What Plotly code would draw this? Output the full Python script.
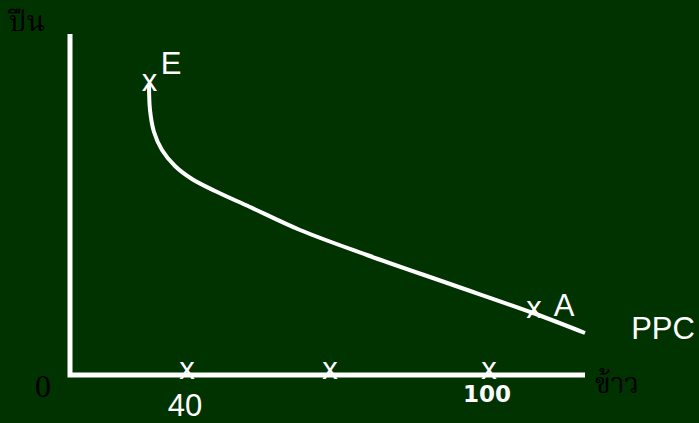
import plotly.graph_objects as go

# axes of the diagram (units: x = rice, y = guns)
axis_x = [0, 0, 515]
axis_y = [341, 0, 0]

# PPC curve
curve_x = [79, 80, 84, 92, 105, 122, 145, 180, 230, 297, 383, 463, 515]
curve_y = [291, 265, 243, 225, 209, 196, 184, 168, 145, 120, 90, 62, 42]

# "x" marks
mark_x = [79.5, 117, 260, 419, 464]
mark_y = [292, 4, 4, 4, 65]

# white labels
labels = ["E", "A", "PPC", "40"]
label_x = [101, 494, 593, 115]
label_y = [309, 67, 44, -33]

bold_label = ["<b>100</b>"]
bold_label_x = [417]
bold_label_y = [-21]

# black labels
origin_label = ["0"]
origin_x = [-27]
origin_y = [-14]
thai_labels = ["ปืน", "ข้าว"]
thai_x = [-43, 547]
thai_y = [351, -11]

BG = "#003300"
SANS = "Liberation Sans, Arial"


def text_trace(x, y, text, font):
    return go.Scatter(x=x, y=y, mode="text", text=text, textfont=font,
                      textposition="middle center", hoverinfo="skip")


fig = go.Figure()

fig.add_trace(go.Scatter(
    x=axis_x, y=axis_y, mode="lines",
    line=dict(color="white", width=5), hoverinfo="skip",
))

fig.add_trace(go.Scatter(
    x=curve_x, y=curve_y, mode="lines",
    line=dict(color="white", width=4, shape="spline", smoothing=1),
    hoverinfo="skip",
))

fig.add_trace(text_trace(mark_x, mark_y, ["x"] * len(mark_x),
                         dict(family=SANS, size=31, color="white")))
fig.add_trace(text_trace(label_x, label_y, labels,
                         dict(family=SANS, size=31, color="white")))
fig.add_trace(text_trace(bold_label_x, bold_label_y, bold_label,
                         dict(family="DejaVu Sans", size=23, color="white")))
fig.add_trace(text_trace(origin_x, origin_y, origin_label,
                         dict(family="Liberation Serif, Times New Roman", size=32, color="black")))
fig.add_trace(text_trace(thai_x, thai_y, thai_labels,
                         dict(family="Noto Serif Thai, Noto Sans Thai, Tahoma, serif", size=28, color="black")))

# full-canvas axes so that one unit is one pixel; the drawn L above is the visible axis
fig.update_xaxes(range=[-70, 629], visible=False)
fig.update_yaxes(range=[-48, 375], visible=False)

fig.update_layout(
    width=699, height=423,
    margin=dict(l=0, r=0, t=0, b=0),
    paper_bgcolor=BG, plot_bgcolor=BG,
    showlegend=False,
)

fig.write_html("out.html", config={"displayModeBar": False},
               post_script="document.body.style.margin='0';")
